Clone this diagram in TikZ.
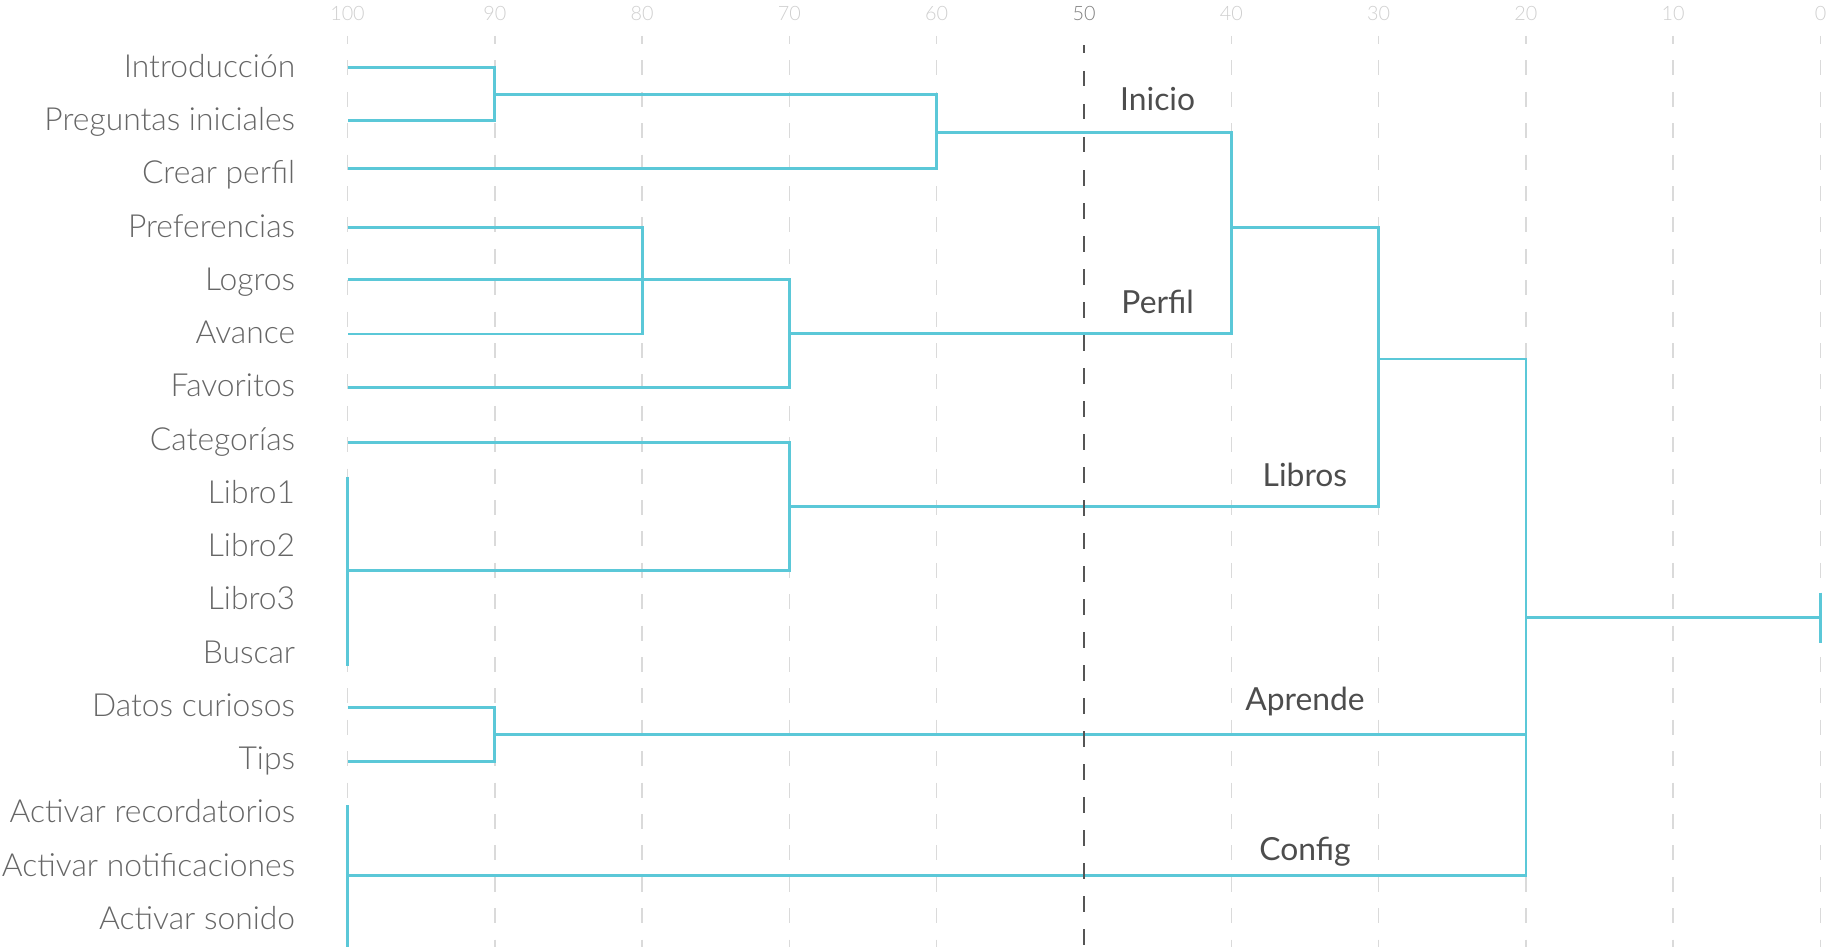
\documentclass[tikz,border=0pt]{standalone}
\usepackage{fontspec}
\setmainfont{Lato}
\newfontfamily\latolight{Lato Light}

\definecolor{dendro}{HTML}{5BC8D8}
\definecolor{gridgray}{HTML}{DADADA}
\definecolor{axisgray}{HTML}{CFCFCF}
\definecolor{leafgray}{HTML}{666666}
\definecolor{groupgray}{HTML}{4D4D4D}
\definecolor{cutgray}{HTML}{555555}

% similarity value -> horizontal position
\newcommand{\xv}[1]{347.5+(100-#1)*14.73}

\tikzset{
  link/.style = {dendro, line width=1.4pt},
  gridline/.style = {gridgray, line width=0.75pt,
    dash pattern=on 7.5pt off 8.2pt, dash phase=3.5pt},
  cutline/.style = {cutgray, line width=1pt,
    dash pattern=on 7.75pt off 8.75pt, dash phase=3.75pt},
  axislabel/.style = {anchor=base, inner sep=0pt, axisgray,
    font=\latolight\fontsize{9.9}{12}\selectfont},
  leaf/.style = {anchor=base east, inner sep=0pt, leafgray,
    font=\latolight\fontsize{15.9}{18}\selectfont},
  group/.style = {anchor=base, inner sep=0pt, groupgray,
    font=\fontsize{15.9}{18}\selectfont}
}

\begin{document}
\begin{tikzpicture}[x=0.5pt, y=-0.5pt]
  \useasboundingbox (0, 0) rectangle (1826, 947);

  \foreach \v in {100, 90, 80, 70, 60, 40, 30, 20, 10, 0} {
    \draw[gridline] ({\xv{\v}}, 36) -- ({\xv{\v}}, 947);
    \node[axislabel] (t\v) at ({\xv{\v}}, 20.7) {\v};
  }
  \node[axislabel, text=cutgray!75] (t50) at ({\xv{50}}, 20.7) {50};

  \foreach \name [count=\i from 0] in {Introducción, Preguntas iniciales,
      Crear perfil, Preferencias, Logros, Avance, Favoritos, Categorías,
      Libro1, Libro2, Libro3, Buscar, Datos curiosos, Tips,
      Activar recordatorios, Activar notificaciones, Activar sonido}
    \node[leaf] (l\i) at (295.5, {77.3 + 53.25*\i}) {\name};

  \foreach \i/\y in {0/67.7, 1/120.7, 2/168.7, 3/227.7, 4/279.7, 5/334,
      6/387.5, 7/442.7, 12/707.3, 13/761.7}
    \coordinate (s\i) at (347.5, \y);
  \coordinate (b1) at (347.5, 570.7);
  \coordinate (b2) at (347.5, 875.7);

  \coordinate (m1) at ({\xv{90}}, 94.2);
  \coordinate (m2) at ({\xv{60}}, 132.3);
  \coordinate (m3) at ({\xv{80}}, 279.7);
  \coordinate (m4) at ({\xv{70}}, 333.2);
  \coordinate (m5) at ({\xv{40}}, 227.7);
  \coordinate (m6) at ({\xv{70}}, 506.7);
  \coordinate (m7) at ({\xv{30}}, 359);
  \coordinate (m8) at ({\xv{90}}, 734.5);
  \coordinate (m9) at ({\xv{20}}, 617.5);
  \coordinate (root) at ({\xv{0}}, 617.5);

  \draw[link] (347.5, 476.7) -- (347.5, 665.7);
  \draw[link] (347.5, 805) -- (347.5, 947);

  \draw[link] (s0) -| (m1) |- (s1);
  \draw[link] (m1) -| (m2) |- (s2);
  \draw[link] (s3) -| (m3) |- (s5);
  \draw[link] (s4) -- (m3);
  \draw[link] (m3) -| (m4) |- (s6);
  \draw[link] (m2) -| (m5) |- (m4);
  \draw[link] (s7) -| (m6) |- (b1);
  \draw[link] (m5) -| (m7) |- (m6);
  \draw[link] (s12) -| (m8) |- (s13);
  \draw[link] (m7) -| (m9) |- (b2);
  \draw[link] (m8) -- (m8 -| m9);
  \draw[link] (m9) -- (root);
  \draw[link] ([yshift=12.5pt]root) -- ([yshift=-12.5pt]root);

  \draw[cutline] ({\xv{50}}, 45.5) -- ({\xv{50}}, 947);

  \node[group] (inicio) at ({\xv{45}}, 111) {Inicio};
  \node[group] (perfil) at ({\xv{45}}, 313.3) {Perfil};
  \node[group] (libros) at ({\xv{35}}, 486.7) {Libros};
  \node[group] (aprende) at ({\xv{35}}, 710) {Aprende};
  \node[group] (config) at ({\xv{35}}, 860) {Config};
\end{tikzpicture}
\end{document}
